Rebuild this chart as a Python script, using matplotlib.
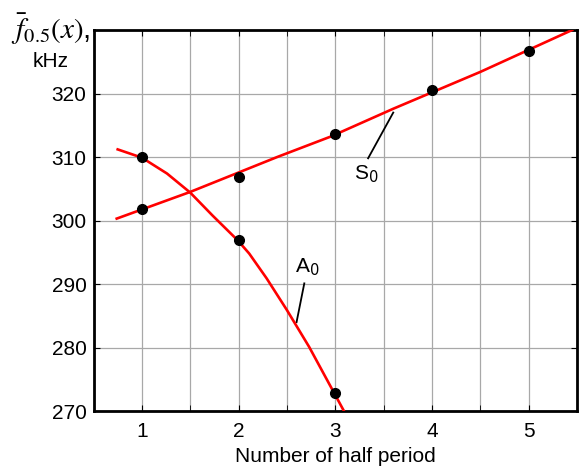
import numpy as np
import matplotlib.pyplot as plt

plt.rcParams['font.family'] = ['Liberation Sans', 'DejaVu Sans']
plt.rcParams['mathtext.fontset'] = 'stix'

# measured points
a0_x = [1, 2, 3]
a0_y = [310.0, 297.0, 272.8]
s0_x = [1, 2, 3, 4, 5]
s0_y = [301.8, 306.8, 313.7, 320.5, 326.7]

# fitted curves
a0_fit_x = [0.75, 1.0, 1.26, 1.5, 1.73, 1.99, 2.11, 2.29, 2.5, 2.73, 2.99, 3.09]
a0_fit_y = [311.2, 309.9, 307.4, 304.4, 300.8, 296.9, 294.8, 290.9, 285.9, 280.1, 272.8, 270.0]
s0_fit_x = [0.74, 1.5, 2.4, 2.95, 3.6, 4.5, 5.45]
s0_fit_y = [300.3, 304.5, 310.0, 313.2, 317.6, 323.4, 330.0]

fig = plt.figure(figsize=(5.79, 4.66), dpi=100)
ax = fig.add_axes([0.1615, 0.118, 0.835, 0.8176])

ax.plot(a0_fit_x, a0_fit_y, color='red', lw=1.9, zorder=3)
ax.plot(s0_fit_x, s0_fit_y, color='red', lw=1.9, zorder=3)
ax.plot(a0_x, a0_y, 'o', color='black', ms=7, zorder=4)
ax.plot(s0_x, s0_y, 'o', color='black', ms=7, zorder=4)

ax.set_xlim(0.5, 5.5)
ax.set_ylim(270, 330)
ax.set_xticks([1, 2, 3, 4, 5])
ax.set_xticks(np.arange(0.5, 5.6, 0.5), minor=True)
ax.set_yticks([270, 280, 290, 300, 310, 320])
ax.grid(True, which='both', axis='x', color='#a8a8a8', lw=0.9)
ax.grid(True, which='major', axis='y', color='#a8a8a8', lw=0.9)
ax.tick_params(which='both', direction='in', top=True, right=True, length=4,
               labelsize=15, color='black')
ax.tick_params(axis='x', pad=8)
ax.tick_params(axis='y', pad=5)
for s in ax.spines.values():
    s.set_linewidth(2)

ax.set_xlabel('Number of half period', fontsize=15, labelpad=4)

# curve labels
ax.plot([2.60, 2.68], [284.0, 290.1], color='black', lw=1.3)
ax.text(2.71, 292.6, 'A$_\\mathrm{0}$', fontsize=15, ha='center', va='center',
        math_fontfamily='dejavusans')
ax.plot([3.34, 3.60], [309.8, 317.0], color='black', lw=1.3)
ax.text(3.32, 307.3, 'S$_\\mathrm{0}$', fontsize=15, ha='center', va='center',
        math_fontfamily='dejavusans')

fig.text(0.088, 0.937, r'$\bar{f}_{0.5}(x)$,', fontsize=21, ha='center', va='center')
fig.text(0.087, 0.868, 'kHz', fontsize=15, ha='center', va='center')

fig.savefig('out.png', dpi=100)
